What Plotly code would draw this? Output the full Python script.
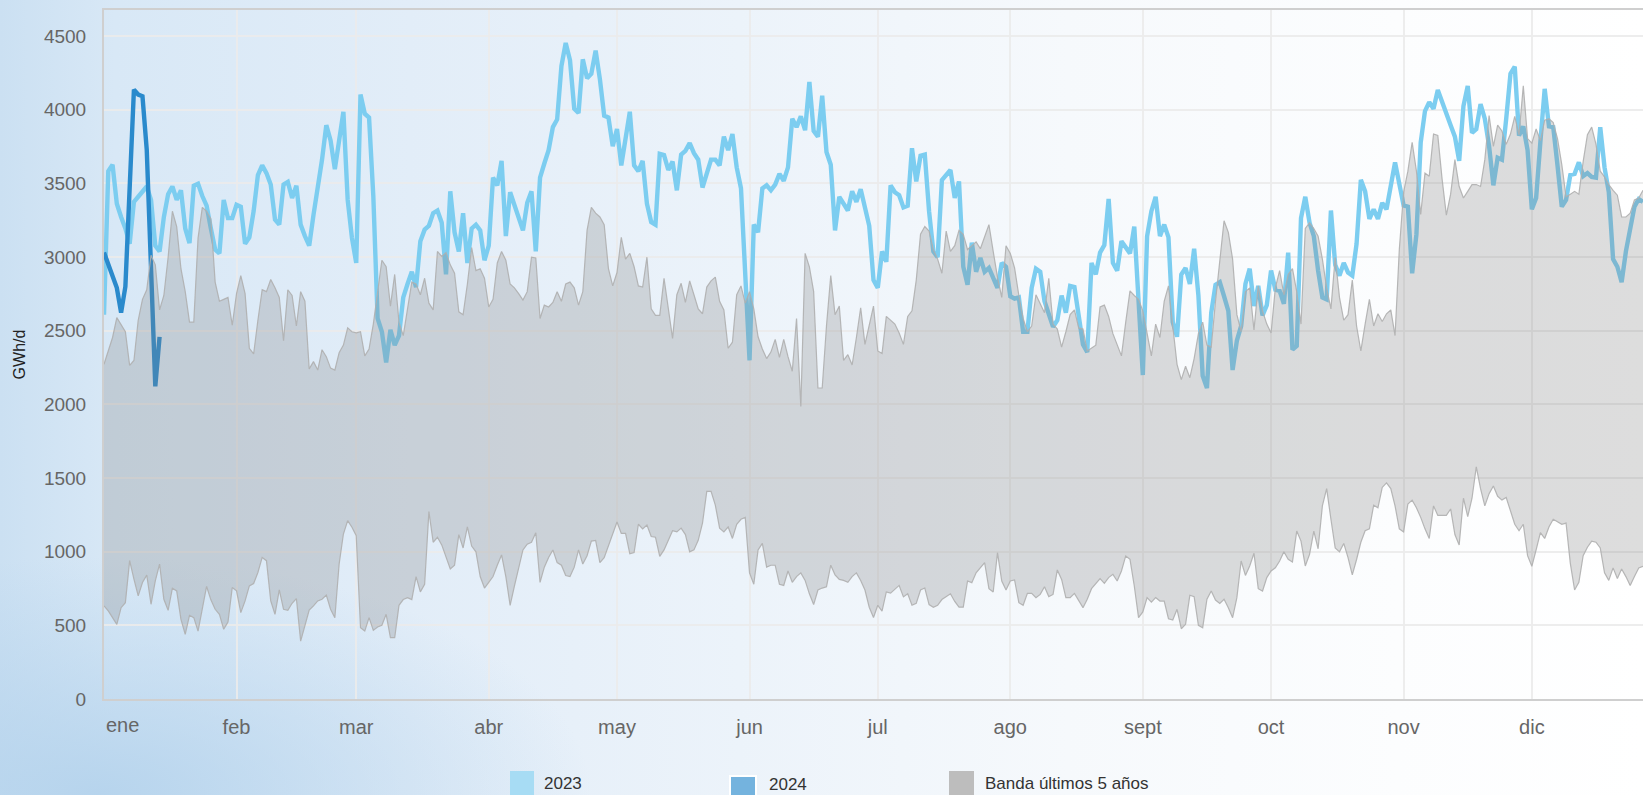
import base64
import pandas as pd
import plotly.graph_objects as go

# ---------------- data (day of year offset from 1 Jan, GWh/d) ----------------
month_ticks = ["feb", "mar", "abr", "may", "jun", "jul", "ago", "sept", "oct", "nov", "dic"]
month_start_days = [31, 59, 90, 120, 151, 181, 212, 243, 273, 304, 334]

y2023_days = [0, 1, 2, 3, 4, 5, 6, 7, 8, 10, 11, 12, 13, 14, 15, 16, 17, 18, 19, 20, 21, 22, 23, 24, 25, 26, 27, 28, 29, 30,
              31, 32, 33, 34, 35, 36, 37, 38, 39, 40, 41, 42, 43, 44, 45, 46, 47, 48, 49, 50, 51, 52, 53, 54, 55, 56, 57, 58, 59, 60,
              61, 62, 63, 64, 65, 66, 67, 68, 69, 70, 71, 72, 73, 74, 75, 76, 77, 78, 79, 80, 81, 82, 83, 84, 85, 86, 87, 88, 89, 90,
              91, 92, 93, 94, 95, 96, 97, 98, 99, 100, 101, 102, 103, 104, 105, 106, 107, 108, 109, 110, 111, 112, 113, 114, 115, 116,
              117, 118, 119, 120, 121, 122, 123, 124, 125, 126, 127, 128, 129, 130, 131, 132, 133, 134, 135, 136, 137, 138, 139, 140,
              141, 142, 143, 144, 145, 146, 147, 148, 149, 151, 152, 153, 154, 155, 156, 157, 158, 159, 160, 161, 162, 163, 164, 165,
              166, 167, 168, 169, 170, 171, 172, 173, 174, 175, 176, 177, 178, 179, 180, 181, 182, 183, 184, 185, 186, 187, 188, 189,
              190, 191, 192, 193, 194, 195, 196, 197, 198, 199, 200, 201, 202, 203, 204, 205, 206, 207, 208, 209, 210, 211, 212, 213,
              214, 215, 216, 217, 218, 219, 220, 221, 222, 223, 224, 225, 226, 227, 228, 229, 230, 231, 232, 233, 234, 235, 236, 237,
              238, 239, 240, 241, 242, 243, 244, 245, 246, 247, 248, 249, 250, 251, 252, 253, 254, 255, 256, 257, 258, 259, 260, 261,
              262, 263, 264, 265, 266, 267, 268, 269, 270, 271, 272, 273, 274, 275, 276, 277, 278, 279, 280, 281, 282, 283, 284, 285,
              286, 287, 288, 289, 290, 291, 292, 293, 294, 295, 296, 297, 298, 299, 300, 302, 304, 305, 306, 307, 308, 309, 310, 311,
              312, 313, 314, 315, 316, 317, 318, 319, 320, 321, 322, 323, 324, 325, 326, 327, 328, 329, 330, 331, 332, 333, 334, 335,
              336, 337, 338, 339, 340, 341, 342, 343, 344, 345, 346, 347, 348, 349, 350, 351, 352, 353, 354, 355, 356, 357, 358, 359, 360]
y2023_vals = [2609, 3583, 3627, 3362, 3272, 3194, 3090, 3375, 3409, 3479, 3388, 3077, 3038, 3272, 3427, 3479, 3388, 3453, 3194, 3095,
              3484, 3497, 3414, 3349, 3194, 3051, 3025, 3388, 3264, 3264, 3355, 3342, 3090, 3134, 3311, 3557, 3622, 3570, 3492, 3254,
              3220, 3492, 3510, 3401, 3484, 3220, 3142, 3077, 3285, 3466, 3661, 3895, 3791, 3596, 3778, 3986, 3388, 3129, 2960, 4103,
              3973, 3947, 3414, 2583, 2493, 2285, 2506, 2402, 2467, 2726, 2817, 2900, 2796, 3108, 3186, 3212, 3298, 3316, 3233, 2882,
              3446, 3168, 3038, 3298, 2960, 3194, 3220, 3181, 2978, 3077, 3539, 3487, 3653, 3142, 3440, 3355, 3264, 3181, 3368, 3446,
              3038, 3539, 3635, 3726, 3882, 3934, 4297, 4453, 4336, 4007, 3978, 4342, 4214, 4245, 4401, 4207, 3960, 3947, 3752, 3869,
              3622, 3804, 3986, 3622, 3583, 3653, 3362, 3238, 3220, 3700, 3692, 3591, 3648, 3453, 3695, 3721, 3773, 3705, 3661, 3472,
              3570, 3661, 3661, 3622, 3817, 3726, 3835, 3609, 3466, 2298, 3220, 3168, 3466, 3487, 3453, 3492, 3565, 3518, 3609, 3939,
              3882, 3955, 3861, 4188, 3856, 3817, 4095, 3713, 3627, 3181, 3409, 3368, 3316, 3446, 3375, 3461, 3337, 3212, 2843, 2791,
              3038, 2968, 3487, 3440, 3420, 3337, 3349, 3739, 3513, 3687, 3695, 3311, 3038, 2999, 3523, 3557, 3591, 3401, 3513, 2934,
              2812, 3098, 2900, 2994, 2900, 2926, 2864, 2791, 2960, 2934, 2734, 2718, 2726, 2493, 2493, 2791, 2921, 2900, 2700, 2615,
              2526, 2571, 2739, 2622, 2804, 2796, 2609, 2407, 2355, 2960, 2882, 3030, 3082, 3394, 2960, 2908, 3108, 3064, 3025, 3207,
              2648, 2199, 3142, 3311, 3409, 3142, 3220, 3134, 2558, 2459, 2882, 2926, 2817, 3056, 2739, 2194, 2111, 2622, 2812, 2830,
              2734, 2635, 2233, 2433, 2532, 2817, 2921, 2667, 2804, 2604, 2674, 2908, 2778, 2770, 2682, 3030, 2371, 2397, 3264, 3409,
              3233, 3142, 2908, 2726, 2713, 3316, 2947, 2874, 2960, 2895, 2874, 3090, 3524, 3446, 3259, 3324, 3259, 3368, 3324, 3643,
              3350, 3342, 2890, 3155, 3778, 3991, 4051, 4007, 4134, 4058, 3991, 3895, 3817, 3653, 4025, 4162, 3843, 3869, 4038, 3939,
              3752, 3487, 3674, 3661, 3939, 4245, 4292, 3825, 3887, 3726, 3324, 3401, 3783, 4142, 3887, 3882, 3622, 3342, 3388, 3557,
              3565, 3643, 3549, 3570, 3544, 3539, 3882, 3609, 3440, 2986, 2934, 2830, 3038, 3194, 3342, 3394, 3375]

y2024_days = [0, 1, 2, 3, 4, 5, 7, 8, 9, 10, 12, 13]
y2024_vals = [3031, 2947, 2882, 2791, 2622, 2800, 4136, 4103, 4091, 3728, 2122, 2458]

band_max_days = list(range(0, 64)) + list(range(65, 231)) + list(range(232, 361))
band_max_vals = [2272, 2363, 2454, 2589, 2545, 2493, 2264, 2298, 2571, 2713, 2778, 3012, 2947, 2641, 2739, 2999, 3311, 3207, 2921, 2765,
                 2558, 2558, 3129, 3337, 3311, 3259, 2830, 2700, 2713, 2726, 2537, 2752, 2874, 2752, 2381, 2342, 2571, 2778, 2765, 2848,
                 2791, 2726, 2433, 2778, 2739, 2532, 2765, 2700, 2241, 2290, 2233, 2371, 2324, 2246, 2233, 2350, 2402, 2519, 2493, 2485,
                 2493, 2329, 2376, 2545,
                 2978, 2934, 2667, 2882, 2558, 2467, 2648, 2830, 2817, 2744, 2856, 2687, 2641, 3038, 3004, 3030, 2947, 2890, 2628, 2609,
                 2817, 3064, 2908, 2921, 2856, 2661, 2713, 2960, 3038, 2978, 2817, 2791, 2752, 2708, 2765, 2999, 2994, 2583, 2674, 2661,
                 2692, 2765, 2700, 2817, 2830, 2791, 2674, 2765, 3181, 3337, 3298, 3272, 3220, 2921, 2804, 2895, 3134, 2986, 3025, 2934,
                 2804, 2796, 2999, 2648, 2604, 2604, 2856, 2635, 2448, 2744, 2822, 2692, 2838, 2744, 2648, 2615, 2796, 2838, 2864, 2700,
                 2641, 2381, 2422, 2744, 2804, 2687, 2765, 2648, 2459, 2376, 2311, 2355, 2441, 2319, 2441, 2324, 2225, 2583, 1986, 3025,
                 2934, 2765, 2111, 2111, 2532, 2874, 2609, 2667, 2298, 2337, 2267, 2454, 2656, 2407, 2532, 2667, 2363, 2345, 2597, 2571,
                 2545, 2485, 2407, 2597, 2635, 2843, 3155, 3207, 3176, 3051, 2986, 2890, 3176, 3038, 3077, 3181, 3155, 3051, 3077, 3103,
                 3056, 3134, 3220, 3038, 2864, 2726, 3077, 3025, 2926, 2739, 2583, 2493, 2532, 2744, 2682, 2622, 2856, 2545, 2511, 2389,
                 2493, 2609, 2641, 2519, 2511, 2363,
                 2402, 2661, 2674, 2597, 2480, 2402, 2329, 2558, 2770, 2739, 2713, 2635, 2480, 2329, 2545, 2454, 2700, 2804, 2532, 2272,
                 2168, 2259, 2181, 2311, 2480, 2558, 2402, 2389, 2700, 2999, 3246, 3168, 2986, 2609, 2493, 2765, 2791, 2506, 2804, 2635,
                 2545, 2485, 2791, 2908, 2744, 2882, 2921, 2765, 2545, 3194, 3233, 3194, 3142, 2986, 2791, 2648, 2999, 2726, 2571, 2609,
                 2843, 2532, 2363, 2545, 2713, 2532, 2615, 2563, 2615, 2641, 2467, 3051, 3440, 3583, 3778, 3583, 3290, 3570, 3549, 3835,
                 3825, 3531, 3285, 3427, 3661, 3479, 3401, 3446, 3492, 3492, 3479, 3661, 3960, 3752, 3895, 3856, 3765, 3835, 3955, 3830,
                 4162, 3804, 3773, 3869, 3791, 3929, 3939, 3913, 3804, 3627, 3409, 3427, 3446, 3427, 3648, 3830, 3882, 3765, 3583, 3544,
                 3492, 3453, 3420, 3272, 3272, 3298, 3388, 3401, 3453]

band_min_days = [0, 1] + list(range(3, 23)) + list(range(24, 197)) + list(range(198, 205)) + list(range(206, 232)) + \
                list(range(233, 313)) + list(range(314, 361))
band_min_vals = [632, 598,
                 507, 620, 654, 939, 814, 700, 791, 841, 643, 802, 916, 677, 602, 752, 734, 541, 439, 568, 552, 461,
                 764, 673, 609, 575, 473, 523, 757, 734, 586, 666, 768, 784, 859, 961, 939, 666, 575, 741, 609, 602, 650, 682,
                 393, 507, 604, 632, 666, 677, 705, 609, 552, 916, 1120, 1211, 1166, 1109, 484, 461, 552, 466, 489, 500, 575, 416,
                 416, 636, 675, 688, 675, 831, 727, 779, 1272, 1064, 1098, 1046, 960, 882, 908, 1116, 1025, 1168, 1038, 999, 831, 753,
                 792, 831, 908, 978, 831, 636, 766, 895, 1012, 1051, 1064, 1129, 792, 895, 960, 1012, 926, 908, 838, 831, 895, 1012,
                 916, 973, 1072, 1077, 926, 960, 1038, 1116, 1202, 1124, 1124, 986, 994, 1186, 1155, 1181, 1103, 1098, 968, 1012, 1072,
                 1142, 1134, 1160, 1116, 999, 1012, 1077, 1194, 1409, 1409, 1316, 1160, 1134, 1168, 1090, 1186, 1220, 1233, 856, 779,
                 1012, 1056, 895, 908, 908, 779, 771, 869, 792, 831, 856, 805, 714, 641, 740, 753, 761, 908, 843, 812, 805, 792, 831,
                 856, 805, 740, 623, 553, 636, 597, 727, 719, 745, 771, 693, 714, 636, 649, 740, 753, 641, 623, 636, 675,
                 714, 662, 623, 623, 801, 790, 857,
                 925, 749, 726, 993, 801, 740, 801, 808, 654, 636, 717, 717, 688, 710, 762, 695, 710, 876, 812, 688, 688, 717, 672,
                 620, 677, 749,
                 817, 785, 824, 846, 801, 869, 971, 948, 767, 552, 591, 688, 658, 688, 665, 665, 545, 536, 609, 477, 507, 704, 695,
                 500, 484, 677, 733, 672, 649, 677, 620, 552, 688, 937, 839, 903, 989, 749, 733, 824, 869, 891, 937, 1000, 948, 930,
                 1140, 1072, 903, 982, 1140, 1020, 1311, 1428, 1220, 1025, 999, 1056, 960, 843, 947, 1064, 1142, 1155, 1316, 1298,
                 1436, 1467, 1428, 1311, 1155, 1134, 1324, 1350, 1298, 1233, 1155, 1090, 1311, 1246,
                 1246, 1290, 1116, 1046, 1363, 1238, 1363, 1576, 1428, 1311, 1394, 1446, 1376, 1350, 1368, 1272, 1186, 1142, 1186,
                 973, 901, 1012, 1129, 1090, 1168, 1220, 1202, 1186, 1194, 921, 740, 792, 973, 1030, 1072, 1064, 1025, 856, 805, 890,
                 818, 882, 831, 771, 831, 890, 901]

y_tick_vals = [0, 500, 1000, 1500, 2000, 2500, 3000, 3500, 4000, 4500]
legend_labels = ["2023", "2024", "Banda últimos 5 años"]

# ---------------- helpers ----------------
base = pd.Timestamp("2023-01-01")


def to_dates(days):
    return [base + pd.Timedelta(days=int(d)) for d in days]


W, H = 1643, 795
ML, MR, MT, MB = 104, 0, 10, 96
PW, PH = W - ML - MR, H - MT - MB


def px(X):
    return (X - ML) / PW


def py(Y):
    return (H - MB - Y) / PH


FONT = "Liberation Sans, Arial, Helvetica, sans-serif"
C2023 = "#7ccdf0"
C2024 = "#2a8acc"

fig = go.Figure()

fig.add_trace(go.Scatter(x=to_dates(y2023_days), y=y2023_vals, mode="lines", name="2023",
                         line=dict(color=C2023, width=4.4), showlegend=False))
fig.add_trace(go.Scatter(x=to_dates(y2024_days), y=y2024_vals, mode="lines", name="2024",
                         line=dict(color=C2024, width=4.4), showlegend=False))
fig.add_trace(go.Scatter(x=to_dates(band_min_days), y=band_min_vals, mode="lines", name="Banda mín",
                         line=dict(color="rgba(175,175,175,0.9)", width=1.2), showlegend=False))
fig.add_trace(go.Scatter(x=to_dates(band_max_days), y=band_max_vals, mode="lines", name=legend_labels[2],
                         line=dict(color="rgba(175,175,175,0.9)", width=1.2), fill="tonexty",
                         fillcolor="rgba(128,128,128,0.27)", showlegend=False))

# background gradient image
svg = f'''<svg xmlns="http://www.w3.org/2000/svg" width="{W}" height="{H}" viewBox="0 0 {W} {H}" preserveAspectRatio="none">
<defs>
<linearGradient id="g" x1="0" y1="0" x2="1" y2="0">
<stop offset="0" stop-color="#cbe0f2"/>
<stop offset="0.07" stop-color="#d8e8f6"/>
<stop offset="0.25" stop-color="#e2edf8"/>
<stop offset="0.45" stop-color="#ecf3fa"/>
<stop offset="0.65" stop-color="#f6f9fc"/>
<stop offset="0.85" stop-color="#fcfdfe"/>
<stop offset="1" stop-color="#ffffff"/>
</linearGradient>
<radialGradient id="r" cx="0.06" cy="1" r="0.3">
<stop offset="0" stop-color="#b3d2ec" stop-opacity="0.9"/>
<stop offset="1" stop-color="#b3d2ec" stop-opacity="0"/>
</radialGradient>
</defs>
<rect width="{W}" height="{H}" fill="url(#g)"/>
<rect width="{W}" height="{H}" fill="url(#r)"/>
</svg>'''
src = "data:image/svg+xml;base64," + base64.b64encode(svg.encode()).decode()

shapes = []
annotations = []
# legend (manual swatches + text)
leg = [
    (legend_labels[0], "#a7dcf4", 510, 534, 771, 542, 783, None),
    (legend_labels[1], "#74b3de", 730, 756, 776, 767, 784, "white"),
    (legend_labels[2], "#bdbdbd", 949, 974, 771, 983, 783, None),
]
for text, col, x0, x1, ytop, tx, ty, outline in leg:
    shapes.append(dict(type="rect", xref="paper", yref="paper", x0=px(x0), x1=px(x1), y0=py(ytop), y1=py(800),
                       fillcolor=col, line=dict(width=2 if outline else 0, color=outline or col), layer="above"))
    annotations.append(dict(text=text, xref="paper", yref="paper", x=px(tx), y=py(ty), xanchor="left",
                            yanchor="middle", showarrow=False, font=dict(family=FONT, size=17, color="#333333")))

annotations.append(dict(text="ene", xref="x", yref="paper", x=base, y=py(725), xanchor="left", yanchor="middle",
                        showarrow=False, xshift=0, font=dict(family=FONT, size=20, color="#666666")))

fig.update_layout(
    width=W, height=H, autosize=False,
    margin=dict(l=ML, r=MR, t=MT, b=MB, pad=0),
    paper_bgcolor="white", plot_bgcolor="rgba(0,0,0,0)",
    font=dict(family=FONT, color="#666666"),
    showlegend=False,
    images=[dict(source=src, xref="paper", yref="paper", x=px(0), y=py(0), sizex=W / PW, sizey=H / PH,
                 xanchor="left", yanchor="top", sizing="stretch", layer="below")],
    shapes=shapes, annotations=annotations,
    xaxis=dict(type="date", range=[base, base + pd.Timedelta(days=360)],
               tickvals=to_dates(month_start_days), ticktext=month_ticks,
               tickfont=dict(family=FONT, size=20, color="#666666"), ticks="", ticklabelstandoff=9,
               showgrid=True, gridcolor="rgba(235,235,235,0.9)", gridwidth=2,
               showline=True, linecolor="#cfcfcf", linewidth=2, mirror=True, zeroline=False,
               fixedrange=True),
    yaxis=dict(range=[0, 4677], tickvals=y_tick_vals, ticks="", ticklabelstandoff=12,
               tickfont=dict(family=FONT, size=19, color="#666666"),
               showgrid=True, gridcolor="rgba(235,235,235,0.9)", gridwidth=2,
               showline=True, linecolor="#cfcfcf", linewidth=2, mirror=False, zeroline=False,
               title=dict(text="GWh/d", font=dict(family=FONT, size=16, color="#222222"), standoff=14),
               fixedrange=True),
)

fig.write_html("out.html", config={"displayModeBar": False},
               post_script="document.body.style.margin='0';document.body.style.overflow='hidden';")
